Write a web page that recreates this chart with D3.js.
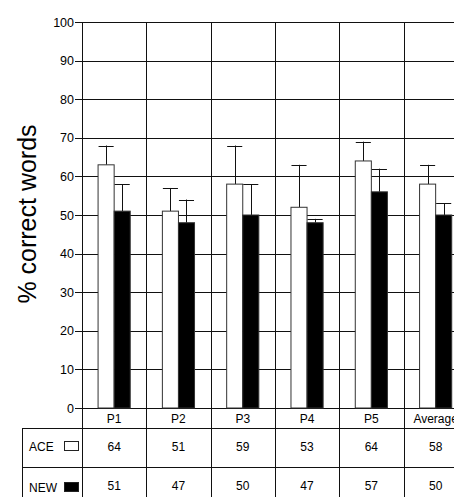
<!DOCTYPE html>
<html>
<head>
<meta charset="utf-8">
<script src="https://cdn.jsdelivr.net/npm/d3@7"></script>
<style>
  body { margin: 0; background: #fff; }
  svg { display: block; font-family: "Liberation Sans", Arial, sans-serif; }
  .grid line, .tbl line { stroke: #111; stroke-width: 1; shape-rendering: crispEdges; }
</style>
</head>
<body>
<div id="chart"></div>
<script>
// chart values
const categories = ["P1", "P2", "P3", "P4", "P5", "Average"];
const aceMeans = [63, 51, 58, 52, 64, 58];
const aceUpper = [68, 57, 68, 63, 69, 63];
const newMeans = [51, 48, 50, 48, 56, 50];
const newUpper = [58, 54, 58, 49, 62, 53];
const aceTable = [64, 51, 59, 53, 64, 58];
const newTable = [51, 47, 50, 47, 57, 50];
const yTicks = [0, 10, 20, 30, 40, 50, 60, 70, 80, 90, 100];

const width = 454, height = 497;
const plotLeft = 82, plotTop = 22, base = 408;
const colW = 64.3;

const svg = d3.select("#chart").append("svg")
    .attr("width", width)
    .attr("height", height);

const x = d3.scaleBand()
    .domain(categories)
    .range([plotLeft, plotLeft + colW * categories.length])
    .padding(0);

const y = d3.scaleLinear()
    .domain([0, 100])
    .range([base, plotTop]);

const bw = x.bandwidth();
const px = v => Math.round(v) + 0.5;

// horizontal grid + ticks
const grid = svg.append("g").attr("class", "grid");
grid.selectAll("line.h")
    .data(yTicks)
    .join("line")
    .attr("class", "h")
    .attr("x1", plotLeft - 7)
    .attr("x2", width)
    .attr("y1", d => px(y(d)))
    .attr("y2", d => px(y(d)));

// vertical column lines, running down through the table
grid.selectAll("line.v")
    .data(categories)
    .join("line")
    .attr("class", "v")
    .attr("x1", d => px(x(d)))
    .attr("x2", d => px(x(d)))
    .attr("y1", plotTop)
    .attr("y2", height);

svg.append("g")
    .selectAll("text")
    .data(yTicks)
    .join("text")
    .attr("x", 74)
    .attr("y", d => y(d) + 4.5)
    .attr("text-anchor", "end")
    .attr("font-size", 12.5)
    .text(d => d);

// y title
svg.append("text")
    .attr("transform", "translate(36,214) rotate(-90)")
    .attr("text-anchor", "middle")
    .attr("font-size", 25)
    .text("% correct words");

// bars
const bars = svg.append("g");
function drawSeries(means, upper, offset, fill) {
    const g = bars.append("g");
    // error bars first so the bar outline sits on top
    g.selectAll("line.err")
        .data(categories)
        .join("line")
        .attr("class", "err")
        .attr("x1", d => px(x(d) + offset + bw / 8))
        .attr("x2", d => px(x(d) + offset + bw / 8))
        .attr("y1", (d, i) => y(means[i]))
        .attr("y2", (d, i) => y(upper[i]))
        .attr("stroke", "#111");
    g.selectAll("line.cap")
        .data(categories)
        .join("line")
        .attr("class", "cap")
        .attr("x1", d => x(d) + offset + 0.5)
        .attr("x2", d => x(d) + offset + bw / 4 - 0.5)
        .attr("y1", (d, i) => px(y(upper[i])))
        .attr("y2", (d, i) => px(y(upper[i])))
        .attr("stroke", "#111");
    g.selectAll("rect")
        .data(categories)
        .join("rect")
        .attr("x", d => x(d) + offset)
        .attr("y", (d, i) => y(means[i]))
        .attr("width", bw / 4)
        .attr("height", (d, i) => base - y(means[i]))
        .attr("fill", fill)
        .attr("stroke", "#333")
        .attr("stroke-width", 1);
}
drawSeries(aceMeans, aceUpper, bw / 4, "#fff");
drawSeries(newMeans, newUpper, bw / 2, "#000");

// table
const tbl = svg.append("g").attr("class", "tbl");
const row1 = 428, row2 = 467;
tbl.selectAll("line.r")
    .data([row1, row2])
    .join("line")
    .attr("class", "r")
    .attr("x1", 22)
    .attr("x2", width)
    .attr("y1", d => px(d))
    .attr("y2", d => px(d));
tbl.append("line")
    .attr("x1", 22.5).attr("x2", 22.5)
    .attr("y1", row1).attr("y2", height);

// category labels
svg.append("g")
    .selectAll("text")
    .data(categories)
    .join("text")
    .attr("x", d => x(d) + bw / 2)
    .attr("y", 423)
    .attr("text-anchor", "middle")
    .attr("font-size", 12)
    .text(d => d);

// row labels with legend swatches
const rows = [
    { name: "ACE", fill: "#fff", vals: aceTable, yb: 451 },
    { name: "NEW", fill: "#000", vals: newTable, yb: 492 }
];
rows.forEach(r => {
    svg.append("text")
        .attr("x", 29)
        .attr("y", r.yb)
        .attr("font-size", 12)
        .text(r.name);
    svg.append("rect")
        .attr("x", 64.5)
        .attr("y", r.yb - 9.5)
        .attr("width", 14)
        .attr("height", 9)
        .attr("fill", r.fill)
        .attr("stroke", "#222");
    svg.append("g")
        .selectAll("text")
        .data(categories)
        .join("text")
        .attr("x", d => x(d) + bw / 2)
        .attr("y", r.yb - (r.name === "NEW" ? 2 : 0))
        .attr("text-anchor", "middle")
        .attr("font-size", 12)
        .text((d, i) => r.vals[i]);
});
</script>
</body>
</html>
